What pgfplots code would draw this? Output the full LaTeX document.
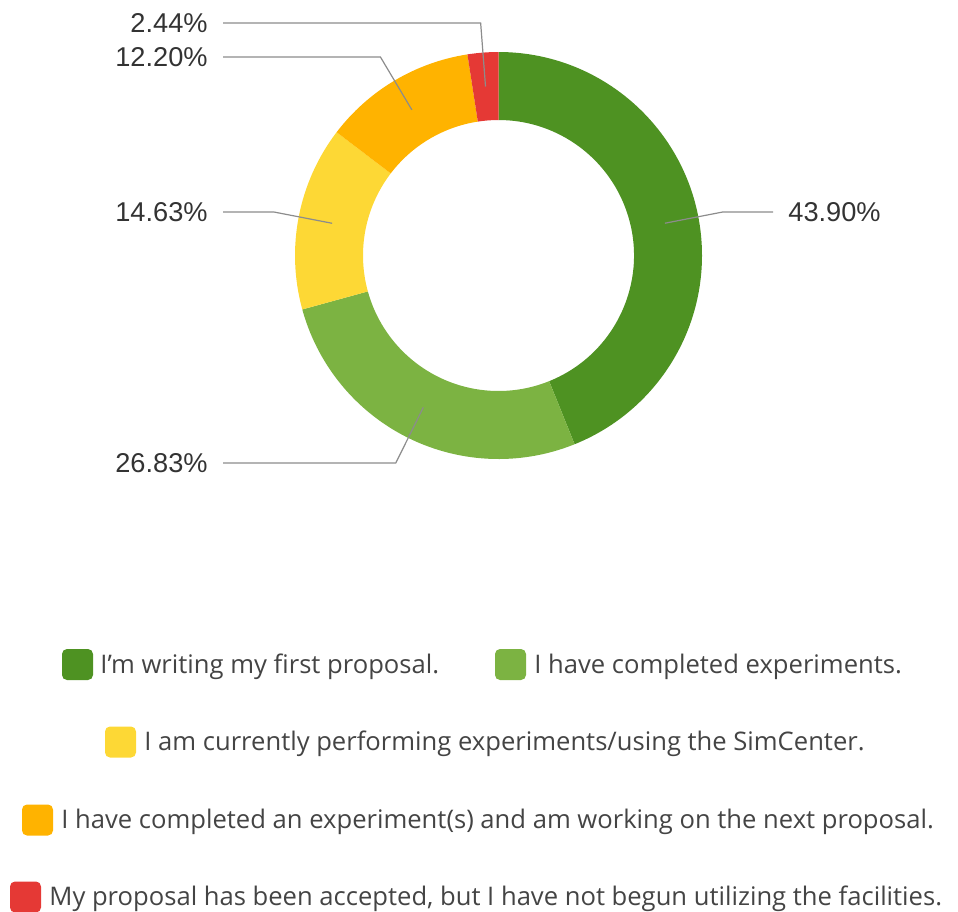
\documentclass[border=0pt]{standalone}
\usepackage{pgfplots}
\pgfplotsset{compat=1.18}
\usepackage{pgfplotstable}
\usepackage{fontspec}
\setmainfont{Open Sans}
\newfontfamily\pctfont{Liberation Sans}
\definecolor{cA}{HTML}{4E9222}
\definecolor{cB}{HTML}{7CB342}
\definecolor{cC}{HTML}{FDD835}
\definecolor{cD}{HTML}{FFB300}
\definecolor{cE}{HTML}{E53935}
\definecolor{legtext}{HTML}{444444}
\definecolor{pcttext}{HTML}{333333}
\definecolor{leadcol}{HTML}{8C8C8C}

\pgfplotstableread{
value
43.90
26.83
14.63
12.20
2.44
}\donutdata

% centre (498.5,255.5) px, outer radius 203.5 px, inner radius 135.5 px; 1 px = 0.5 pt
\newcommand\slice[3]{%
  \fill[#3] (axis cs:498.5,255.5) ++(#1:101.75pt)
    arc[start angle=#1,end angle=#2,radius=101.75pt]
    -- ++(#2:-34pt)
    arc[start angle=#2,end angle=#1,radius=67.75pt] -- cycle;}
% leader: mid angle, line y, line end x
\newcommand\leader[3]{%
  \draw[leadcol, line width=0.6pt]
    ({498.5+169.5*cos(#1)},{255.5-169.5*sin(#1)})
    -- ({498.5+(255.5-#2)*cos(#1)/sin(#1)},#2)
    -- (#3,#2);}
\newcommand\legentry[5]{% x, y-centre, colour, text x, text
  \fill[#3, rounded corners=2.5pt] (#1,#2-15.5) rectangle (#1+31,#2+15.5);
  \node[anchor=base west, inner sep=0, font=\fontsize{12.8}{16}\selectfont, text=legtext]
    at (#4,#2+8.5) {#5};}
\newcommand\pct[1]{\pgfmathprintnumber[fixed,fixed zerofill,precision=2,assume math mode=true]{#1}\%}

\begin{document}
\begin{tikzpicture}
\pgfplotstablegetelem{0}{value}\of\donutdata \let\vA\pgfplotsretval
\pgfplotstablegetelem{1}{value}\of\donutdata \let\vB\pgfplotsretval
\pgfplotstablegetelem{2}{value}\of\donutdata \let\vC\pgfplotsretval
\pgfplotstablegetelem{3}{value}\of\donutdata \let\vD\pgfplotsretval
\pgfplotstablegetelem{4}{value}\of\donutdata \let\vE\pgfplotsretval
\pgfmathsetmacro\aA{90}
\pgfmathsetmacro\aB{\aA-3.6*\vA}
\pgfmathsetmacro\aC{\aB-3.6*\vB}
\pgfmathsetmacro\aD{\aC-3.6*\vC}
\pgfmathsetmacro\aE{\aD-3.6*\vD}
\pgfmathsetmacro\aF{\aE-3.6*\vE}
\pgfmathsetmacro\mA{(\aA+\aB)/2}
\pgfmathsetmacro\mB{(\aB+\aC)/2}
\pgfmathsetmacro\mC{(\aC+\aD)/2}
\pgfmathsetmacro\mD{(\aD+\aE)/2}
\pgfmathsetmacro\mE{(\aE+\aF)/2}
\begin{axis}[
  x=0.5pt, y=0.5pt, y dir=reverse,
  xmin=0, xmax=958, ymin=0, ymax=911,
  hide axis, clip=false, scale only axis,
]
\slice{\aA}{\aB}{cA}
\slice{\aB}{\aC}{cB}
\slice{\aC}{\aD}{cC}
\slice{\aD}{\aE}{cD}
\slice{\aE}{\aF}{cE}

\leader{\mA}{212}{773}
\leader{\mB}{463}{223}
\leader{\mC}{212}{223}
\leader{\mD}{57}{223}
\leader{\mE}{23}{223}

\node[anchor=base west, inner sep=0, font=\pctfont\fontsize{13.6}{16}\selectfont, text=pcttext]
  at (788,221.5) {\pct{\vA}};
\node[anchor=base east, inner sep=0, font=\pctfont\fontsize{13.6}{16}\selectfont, text=pcttext]
  at (208,472.5) {\pct{\vB}};
\node[anchor=base east, inner sep=0, font=\pctfont\fontsize{13.6}{16}\selectfont, text=pcttext]
  at (208,221.5) {\pct{\vC}};
\node[anchor=base east, inner sep=0, font=\pctfont\fontsize{13.6}{16}\selectfont, text=pcttext]
  at (208,66.5) {\pct{\vD}};
\node[anchor=base east, inner sep=0, font=\pctfont\fontsize{13.6}{16}\selectfont, text=pcttext]
  at (208,32.5) {\pct{\vE}};

\legentry{62}{664.5}{cA}{100}{I\symbol{39}m writing my first proposal.}
\legentry{495}{664.5}{cB}{534}{I have completed experiments.}
\legentry{105}{742}{cC}{144}{I am currently performing experiments/using the SimCenter.}
\legentry{22}{820}{cD}{61}{I have completed an experiment(s) and am working on the next proposal.}
\legentry{10}{897}{cE}{49}{My proposal has been accepted, but I have not begun utilizing the facilities.}
\end{axis}
\pgfresetboundingbox
\path (current axis.south west) rectangle (current axis.north east);
\end{tikzpicture}
\end{document}
